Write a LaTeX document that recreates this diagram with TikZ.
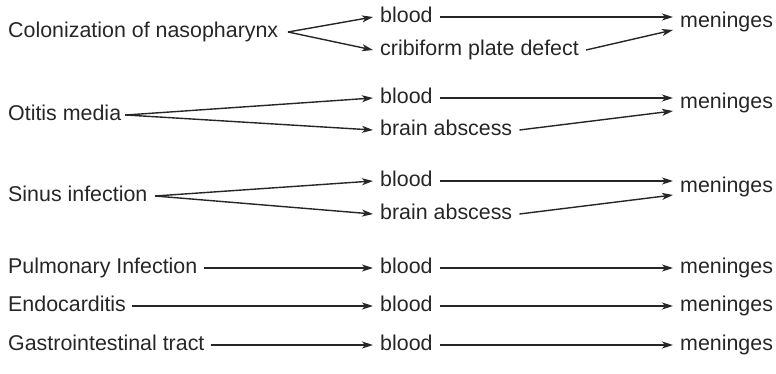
\documentclass[tikz,border=0pt]{standalone}
\usepackage{fontspec}
\setmainfont{Liberation Sans}
\usetikzlibrary{arrows.meta}
\begin{document}
\begin{tikzpicture}[x=1pt,y=-1pt,
  lbl/.style={anchor=west,inner xsep=0pt,inner ysep=0pt,text height=15pt,text depth=4pt,font=\fontsize{21.4}{24}\selectfont,text=black!85},
  arr/.style={line width=1.4pt,draw=black!85,-{Stealth[length=11pt,width=7pt,inset=3pt]}},
  ln/.style={line width=1.4pt,draw=black!85}]
\useasboundingbox (0,0) rectangle (776,374);
% row 1
\node[lbl] (s1) at (8,32) {Colonization of nasopharynx};
\node[lbl] (b1) at (380,17) {blood};
\node[lbl] (c1) at (380,50) {cribiform plate defect};
\node[lbl] (m1) at (680,22) {meninges};
\coordinate (f1) at (288,32);
\draw[arr] (f1) -- ([xshift=-7pt]b1.west);
\draw[arr] (f1) -- ([xshift=-7pt]c1.west);
\draw[arr] ([xshift=7pt]b1.east) -- ([xshift=-7pt]b1.east -| m1.west);
\draw[arr] ([xshift=7pt]c1.east) -- ([xshift=-7pt,yshift=-8pt]m1.west);
% row 2
\node[lbl] (s2) at (8,115) {Otitis media};
\node[lbl] (b2) at (380,98) {blood};
\node[lbl] (c2) at (380,130) {brain abscess};
\node[lbl] (m2) at (680,103) {meninges};
\coordinate (f2) at (126,115);
\draw[ln] ([xshift=4pt]s2.east) -- (f2);
\draw[arr] (f2) -- ([xshift=-7pt]b2.west);
\draw[arr] (f2) -- ([xshift=-7pt]c2.west);
\draw[arr] ([xshift=7pt]b2.east) -- ([xshift=-7pt]b2.east -| m2.west);
\draw[arr] ([xshift=7pt]c2.east) -- ([xshift=-7pt,yshift=-8pt]m2.west);
% row 3
\node[lbl] (s3) at (8,196) {Sinus infection};
\node[lbl] (b3) at (380,181) {blood};
\node[lbl] (c3) at (380,214) {brain abscess};
\node[lbl] (m3) at (680,187) {meninges};
\coordinate (f3) at (155,196);
\draw[arr] (f3) -- ([xshift=-7pt]b3.west);
\draw[arr] (f3) -- ([xshift=-7pt]c3.west);
\draw[arr] ([xshift=7pt]b3.east) -- ([xshift=-7pt]b3.east -| m3.west);
\draw[arr] ([xshift=7pt]c3.east) -- ([xshift=-7pt,yshift=-8pt]m3.west);
% rows 4-6
\node[lbl] (s4) at (8,268) {Pulmonary Infection};
\node[lbl] (b4) at (380,268) {blood};
\node[lbl] (m4) at (680,268) {meninges};
\draw[arr] ([xshift=6pt]s4.east) -- ([xshift=-7pt]b4.west);
\draw[arr] ([xshift=7pt]b4.east) -- ([xshift=-7pt]m4.west);
\node[lbl] (s5) at (8,306) {Endocarditis};
\node[lbl] (b5) at (380,306) {blood};
\node[lbl] (m5) at (680,306) {meninges};
\draw[arr] ([xshift=6pt]s5.east) -- ([xshift=-7pt]b5.west);
\draw[arr] ([xshift=7pt]b5.east) -- ([xshift=-7pt]m5.west);
\node[lbl] (s6) at (8,345) {Gastrointestinal tract};
\node[lbl] (b6) at (380,345) {blood};
\node[lbl] (m6) at (680,345) {meninges};
\draw[arr] ([xshift=6pt]s6.east) -- ([xshift=-7pt]b6.west);
\draw[arr] ([xshift=7pt]b6.east) -- ([xshift=-7pt]m6.west);
\end{tikzpicture}
\end{document}
